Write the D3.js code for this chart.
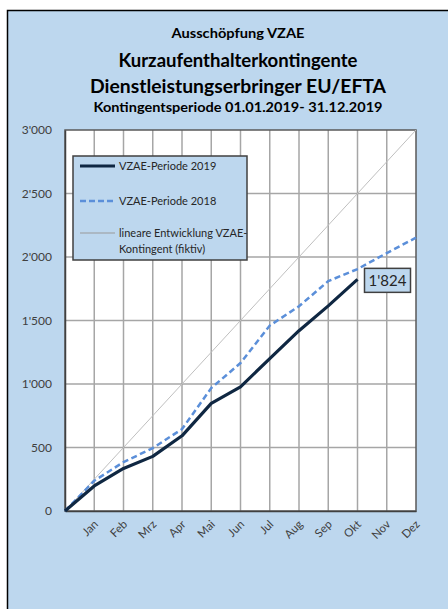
<!DOCTYPE html>
<html>
<head>
<meta charset="utf-8">
<script src="https://cdn.jsdelivr.net/npm/d3@7"></script>
<style>
  body { margin: 0; background: #ffffff; }
  svg { display: block; font-family: Lato, "Open Sans", sans-serif; }
</style>
</head>
<body>
<script>
// month categories (index 0 = start of period)
var months = ["Jan", "Feb", "Mrz", "Apr", "Mai", "Jun", "Jul", "Aug", "Sep", "Okt", "Nov", "Dez"];
var periode2019 = [0, 197, 335, 430, 592, 847, 978, 1200, 1420, 1615, 1824];
var periode2018 = [0, 238, 385, 495, 645, 968, 1165, 1460, 1612, 1810, 1905, 2031, 2152];
var linear = [0, 3000];          // start and end of the fictive linear line
var yTicks = [0, 500, 1000, 1500, 2000, 2500, 3000];
var lastLabel = "1'824";

var W = 448, H = 609;
var pLeft = 65, pRight = 416, pTop = 130, pBottom = 511;

var svg = d3.select("body").append("svg")
  .attr("width", W)
  .attr("height", H);

// chart frame
svg.append("rect")
  .attr("x", 7.5).attr("y", 10.5).attr("width", W).attr("height", H)
  .style("fill", "#bdd7ee")
  .style("stroke", "#000")
  .style("stroke-width", 1.5);

// titles
var titles = [
  {t: "Ausschöpfung VZAE", y: 38, size: 13.5, len: 133},
  {t: "Kurzaufenthalterkontingente", y: 67, size: 19, len: 239},
  {t: "Dienstleistungserbringer EU/EFTA", y: 93, size: 19, len: 296},
  {t: "Kontingentsperiode 01.01.2019- 31.12.2019", y: 112, size: 13.5, len: 289}
];
svg.selectAll("text.title")
    .data(titles)
  .enter().append("text")
    .attr("class", "title")
    .attr("x", 238)
    .attr("y", function(d) { return d.y; })
    .attr("text-anchor", "middle")
    .attr("textLength", function(d) { return d.len; })
    .attr("lengthAdjust", "spacingAndGlyphs")
    .style("font-size", function(d) { return d.size + "px"; })
    .style("font-weight", "bold")
    .style("fill", "#000")
    .text(function(d) { return d.t; });

// scales
var x = d3.scaleLinear().domain([0, 12]).range([pLeft, pRight]);
var y = d3.scaleLinear().domain([0, 3000]).range([pBottom, pTop]);
var fmt = d3.formatLocale({decimal: ".", thousands: "'", grouping: [3], currency: ["", ""]}).format(",d");

// plot area
svg.append("rect")
  .attr("x", pLeft).attr("y", pTop)
  .attr("width", pRight - pLeft).attr("height", pBottom - pTop)
  .style("fill", "#fff");

// grid
var grid = svg.append("g");
grid.selectAll("line.h")
    .data(yTicks.slice(1, -1))
  .enter().append("line")
    .attr("class", "h")
    .attr("x1", pLeft).attr("x2", pRight)
    .attr("y1", function(d) { return y(d); })
    .attr("y2", function(d) { return y(d); })
    .style("stroke", "#a6a6a6")
    .style("stroke-width", 1.5);
grid.selectAll("line.v")
    .data(months.slice(0, -1))
  .enter().append("line")
    .attr("class", "v")
    .attr("x1", function(d, i) { return x(i + 1); })
    .attr("x2", function(d, i) { return x(i + 1); })
    .attr("y1", pTop).attr("y2", pBottom)
    .style("stroke", "#a6a6a6")
    .style("stroke-width", 1.5);

svg.append("rect")
  .attr("x", pLeft).attr("y", pTop)
  .attr("width", pRight - pLeft).attr("height", pBottom - pTop)
  .style("fill", "none")
  .style("stroke", "#595959")
  .style("stroke-width", 1.5);

// y axis
var yAxis = d3.axisLeft(y).tickValues(yTicks).tickFormat(fmt).tickSize(0).tickPadding(13);
var gy = svg.append("g").attr("transform", "translate(" + pLeft + ",0)").call(yAxis);
gy.select(".domain").style("stroke", "#404040").style("stroke-width", 1.5);
gy.selectAll(".tick text")
  .style("font-family", "Lato, sans-serif")
  .style("font-size", "12px")
  .style("fill", "#404040");

// x axis labels
var xAxis = d3.axisBottom(x).tickValues(d3.range(1, 13))
  .tickFormat(function(d) { return months[d - 1]; }).tickSize(0);
var gx = svg.append("g").attr("transform", "translate(0," + pBottom + ")").call(xAxis);
gx.select(".domain").style("stroke", "#404040").style("stroke-width", 1.5);
gx.selectAll(".tick text")
  .attr("text-anchor", "end")
  .attr("y", 0).attr("dy", 0)
  .attr("transform", "translate(4,14) rotate(-45)")
  .style("font-family", "Lato, sans-serif")
  .style("font-size", "11.5px")
  .style("fill", "#404040");

// lines
var line = d3.line()
  .x(function(d, i) { return x(i); })
  .y(function(d) { return y(d); });

svg.append("line")
  .attr("x1", x(0)).attr("y1", y(linear[0]))
  .attr("x2", x(12)).attr("y2", y(linear[1]))
  .style("stroke", "#bfbfbf")
  .style("stroke-width", 1);

svg.append("path")
  .datum(periode2018)
  .attr("d", line)
  .style("fill", "none")
  .style("stroke", "#5b8fd9")
  .style("stroke-width", 2.5)
  .style("stroke-dasharray", "6,3.5");

svg.append("path")
  .datum(periode2019)
  .attr("d", line)
  .style("fill", "none")
  .style("stroke", "#0f2742")
  .style("stroke-width", 3.2)
  .style("stroke-linejoin", "round");

// label of last value
var last = periode2019.length - 1;
var lb = svg.append("g").attr("transform", "translate(" + (x(last) + 7) + "," + (y(periode2019[last]) - 11) + ")");
lb.append("rect")
  .attr("width", 46).attr("height", 24)
  .style("fill", "#bdd7ee")
  .style("stroke", "#404040")
  .style("stroke-width", 1.5);
lb.append("text")
  .attr("x", 23).attr("y", 17.5)
  .attr("text-anchor", "middle")
  .style("font-size", "15px")
  .style("fill", "#262626")
  .text(lastLabel);

// legend
var lg = svg.append("g").attr("transform", "translate(73,156)");
lg.append("rect")
  .attr("width", 174).attr("height", 104)
  .style("fill", "#bdd7ee")
  .style("stroke", "#404040")
  .style("stroke-width", 1.5);
var items = [
  {name: ["VZAE-Periode 2019"], y: 10, color: "#0f2742", w: 3.2, dash: null},
  {name: ["VZAE-Periode 2018"], y: 45, color: "#5b8fd9", w: 2.5, dash: "6,3"},
  {name: ["lineare Entwicklung VZAE-", "Kontingent (fiktiv)"], y: 77, color: "#999", w: 1, dash: null}
];
items.forEach(function(it) {
  lg.append("line")
    .attr("x1", 7).attr("x2", 42)
    .attr("y1", it.y).attr("y2", it.y)
    .style("stroke", it.color)
    .style("stroke-width", it.w)
    .style("stroke-dasharray", it.dash);
  it.name.forEach(function(n, j) {
    lg.append("text")
      .attr("x", 46).attr("y", it.y + 4 + j * 16)
      .style("font-size", "11px")
      .style("fill", "#262626")
      .text(n);
  });
});
</script>
</body>
</html>
